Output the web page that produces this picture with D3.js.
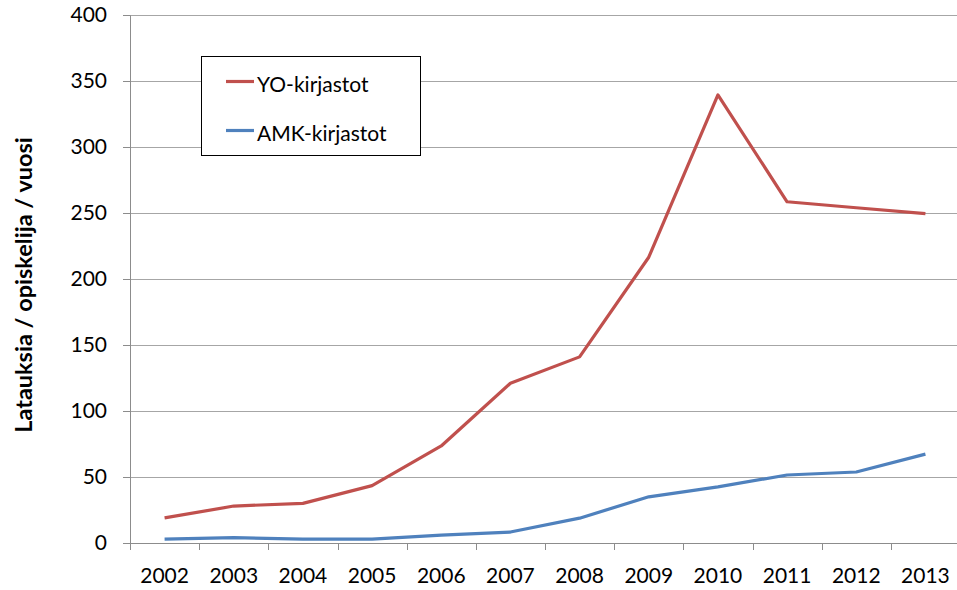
<!DOCTYPE html>
<html>
<head>
<meta charset="utf-8">
<script src="https://d3js.org/d3.v7.min.js"></script>
<style>
  body { margin: 0; background: #fff; }
  text { font-family: Lato, "Open Sans", sans-serif; fill: #000; }
</style>
</head>
<body>
<div id="chart"></div>
<script>
  const years = ['2002', '2003', '2004', '2005', '2006', '2007', '2008', '2009', '2010', '2011', '2012', '2013'];
  const yoValues = [19, 28, 30, 43.5, 73.5, 121, 141, 216.5, 339.5, 258.5, 254, 249.5];
  const amkValues = [3, 4, 3, 3, 6, 8.3, 18.8, 35, 42.5, 51.5, 53.8, 67.3];
  const yTicks = [0, 50, 100, 150, 200, 250, 300, 350, 400];
  const seriesNames = ['YO-kirjastot', 'AMK-kirjastot'];
  const seriesColors = ['#C0504D', '#4F81BD'];
  const yLabel = 'Latauksia / opiskelija / vuosi';

  const width = 957, height = 590;
  const margin = { top: 15, right: -3, bottom: 47, left: 130 };
  const innerW = width - margin.left - margin.right;
  const innerH = height - margin.top - margin.bottom;

  const svg = d3.select('#chart')
    .append('svg')
    .attr('width', width)
    .attr('height', height);

  const g = svg.append('g')
    .attr('transform', `translate(${margin.left}, ${margin.top})`);

  const xScale = d3.scaleBand()
    .domain(years)
    .range([0, innerW]);

  const yScale = d3.scaleLinear()
    .domain([0, 400])
    .range([innerH, 0]);

  // gridlines
  g.selectAll('.grid')
    .data(yTicks.filter(d => d > 0))
    .enter()
    .append('line')
    .attr('x1', 0)
    .attr('x2', innerW)
    .attr('y1', d => Math.round(yScale(d)) + 0.5)
    .attr('y2', d => Math.round(yScale(d)) + 0.5)
    .style('stroke', '#A6A6A6')
    .style('stroke-width', 1);

  // y axis
  const yAxis = g.append('g')
    .call(d3.axisLeft(yScale).tickValues(yTicks).tickSize(7).tickPadding(16));
  yAxis.select('.domain').style('stroke', '#8C8C8C');
  yAxis.selectAll('.tick line').style('stroke', '#8C8C8C');
  yAxis.selectAll('.tick text').style('font-size', '21px');

  // x axis, ticks sit on category boundaries
  const xAxis = g.append('g')
    .attr('transform', `translate(0, ${innerH})`)
    .call(d3.axisBottom(xScale).tickSize(0));
  xAxis.select('.domain').style('stroke', '#8C8C8C');
  xAxis.selectAll('.tick text')
    .attr('y', 40)
    .attr('dy', null)
    .style('font-size', '21px');

  g.selectAll('.xtick')
    .data(years)
    .enter()
    .append('line')
    .attr('x1', d => Math.round(xScale(d)) + 0.5)
    .attr('x2', d => Math.round(xScale(d)) + 0.5)
    .attr('y1', innerH)
    .attr('y2', innerH + 7)
    .style('stroke', '#8C8C8C');

  // lines
  const line = d3.line()
    .x((d, i) => xScale(years[i]) + xScale.bandwidth() / 2)
    .y(d => yScale(d));

  [yoValues, amkValues].forEach((vals, i) => {
    g.append('path')
      .datum(vals)
      .attr('d', line)
      .style('fill', 'none')
      .style('stroke', seriesColors[i])
      .style('stroke-width', 3.2)
      .style('stroke-linejoin', 'round');
  });

  // y title
  svg.append('text')
    .attr('transform', 'rotate(-90)')
    .attr('x', -285)
    .attr('y', 32)
    .style('text-anchor', 'middle')
    .style('font-size', '23.5px')
    .style('font-weight', 'bold')
    .text(yLabel);

  // legend
  const legend = svg.append('g');
  legend.append('rect')
    .attr('x', 201.5)
    .attr('y', 56.5)
    .attr('width', 219)
    .attr('height', 99)
    .style('fill', '#fff')
    .style('stroke', '#000')
    .style('stroke-width', 1);

  seriesNames.forEach((name, i) => {
    const cy = 81.5 + i * 49;
    legend.append('line')
      .attr('x1', 226)
      .attr('x2', 254)
      .attr('y1', cy)
      .attr('y2', cy)
      .style('stroke', seriesColors[i])
      .style('stroke-width', 3.2);
    legend.append('text')
      .attr('x', 257)
      .attr('y', cy + 10)
      .style('font-size', '21px')
      .text(name);
  });
</script>
</body>
</html>
